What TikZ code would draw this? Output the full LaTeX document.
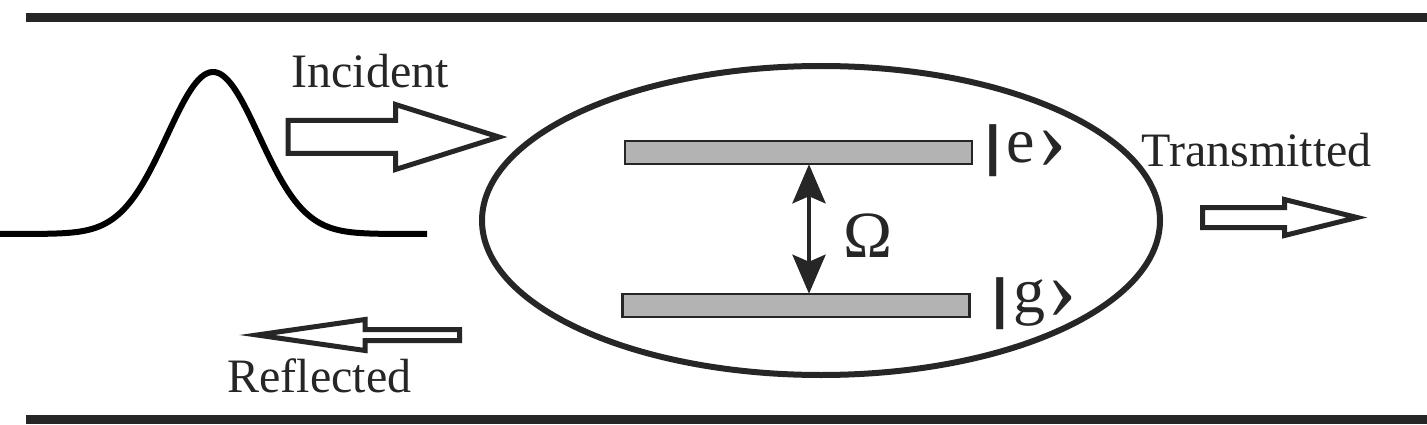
\documentclass[tikz,border=0pt]{standalone}
\usepackage{fontspec}
\setmainfont{Liberation Serif}
\newfontfamily\barfont{Liberation Sans}[BoldFont={Liberation Sans Bold}]
\usetikzlibrary{arrows.meta}
\definecolor{ink}{HTML}{262626}
\definecolor{levelgray}{HTML}{B3B3B3}
\newcommand{\ketbar}[1]{{\fontsize{55}{66}\selectfont\barfont\bfseries\raisebox{#1}{|}}}
\newcommand{\ketclose}{{\fontsize{90}{92}\selectfont\raisebox{-6pt}{›}}}
\tikzset{
  wall/.style={draw=ink, line width=8.5pt},
  pulse/.style={draw=black, line width=6pt},
  blockarrow/.style={draw=ink, line width=5pt, fill=white, line join=miter},
  level/.style={draw=ink, fill=levelgray, line width=2.5pt, minimum width=347pt, minimum height=23pt, inner sep=0pt},
  cell/.style={draw=ink, line width=6pt},
  label/.style={text=ink, font=\fontsize{48}{58}\selectfont, inner sep=0pt, anchor=base},
  ket/.style={text=ink, font=\fontsize{64}{76}\selectfont, inner sep=0pt, anchor=base west},
  rabi/.style={draw=ink, line width=4.5pt, {Stealth[length=39pt,width=33pt,inset=7pt]}-{Stealth[length=39pt,width=33pt,inset=7pt]}, shorten <=-1pt, shorten >=-1pt},
}
\begin{document}
\begin{tikzpicture}[x=1pt,y=-1pt]
\useasboundingbox (0,0) rectangle (1427,425);
% waveguide walls
\draw[wall] (26,17.5) -- (1427,17.5);
\draw[wall] (26,419.5) -- (1427,419.5);
% incident pulse
\draw[pulse] plot[domain=0:427, samples=160, smooth] (\x,{234-162*exp(-0.5*((\x-213)/46)^2)});
% block arrows
\draw[blockarrow] (288,120.5) -- (395.5,120.5) -- (395.5,104.5) -- (499,137) -- (395.5,169.5) -- (395.5,153.5) -- (288,153.5) -- cycle;
\draw[blockarrow] (1202.5,207.5) -- (1284.5,207.5) -- (1284.5,199.5) -- (1357,217.5) -- (1284.5,235.5) -- (1284.5,227.5) -- (1202.5,227.5) -- cycle;
\draw[blockarrow] (459.5,329.5) -- (365,329.5) -- (365,319.5) -- (257,335) -- (365,350.5) -- (365,340.5) -- (459.5,340.5) -- cycle;
% labels
\node[label] (inc) at (370,88) {Incident};
\node[label] (tra) at (1256.5,167) {Transmitted};
\node[label] (ref) at (319.5,392) {Reflected};
% atom
\draw[cell] (821,220.5) ellipse [x radius=339, y radius=154.5];
\node[level] (e) at (798.5,152.5) {};
\node[level] (g) at (796,305.5) {};
\coordinate (ax) at (809,0);
\draw[rabi] (e.south -| ax) -- (g.north -| ax);
\node[text=ink, font=\fontsize{66}{78}\selectfont, inner sep=0pt, anchor=base] (om) at (868,257) {Ω};
\node[ket] (ke) at (985,162) {\ketbar{-2pt}\kern 6pt e\kern 2pt\ketclose};
\node[ket] (kg) at (992,312) {\ketbar{-5pt}\kern 6pt g\kern 2pt\ketclose};
\end{tikzpicture}
\end{document}
